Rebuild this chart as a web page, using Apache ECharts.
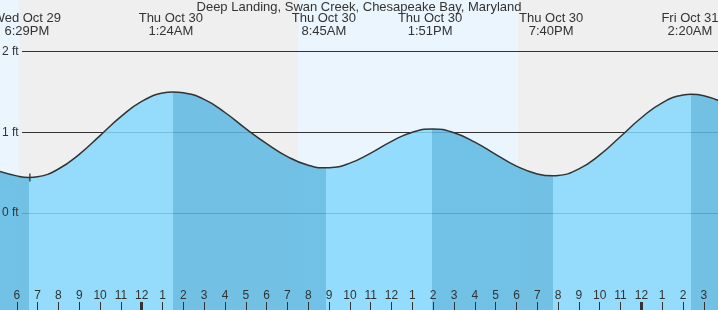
<!DOCTYPE html>
<html><head><meta charset="utf-8">
<script src="https://cdn.jsdelivr.net/npm/echarts@6/dist/echarts.min.js"></script>
<style>html,body{margin:0;padding:0;background:#fff}#c{width:718px;height:310px}</style>
</head><body><div id="c"></div>
<script>
const titleText = 'Deep Landing, Swan Creek, Chesapeake Bay, Maryland';
// time in hours relative to midnight at the start of Thu Oct 30
const hours   = [-7, -6, -5.41, -5, -4, -3, -2, -1, 0, 1, 1.5, 2, 3, 4, 5, 6, 7, 8, 8.85, 9, 10, 11, 12, 13, 13.94, 14, 15, 16, 17, 18, 19, 19.75, 20, 21, 22, 23, 24, 25, 26, 26.39, 27, 28];
// tide height, ft
const heights = [0.53, 0.46, 0.44, 0.449, 0.545, 0.727, 0.959, 1.193, 1.382, 1.486, 1.50, 1.489, 1.407, 1.245, 1.045, 0.860, 0.699, 0.591, 0.56, 0.561, 0.618, 0.742, 0.888, 1.001, 1.04, 1.040, 0.994, 0.878, 0.726, 0.580, 0.484, 0.46, 0.464, 0.546, 0.720, 0.948, 1.180, 1.365, 1.461, 1.47, 1.453, 1.355];
const extremeTimes  = [-5.517, 1.4, 8.75, 13.85, 19.667, 26.333];
const extremeLabels = ['Wed Oct 29\n6:29PM', 'Thu Oct 30\n1:24AM', 'Thu Oct 30\n8:45AM', 'Thu Oct 30\n1:51PM', 'Thu Oct 30\n7:40PM', 'Fri Oct 31\n2:20AM'];
const phaseBreaks = [-5.41, 1.50, 8.85, 13.94, 19.75, 26.39];
const sunEvents = [-5.89, 7.51, 18.07]; // sunset, sunrise, sunset
const hourTicks = [-6,-5,-4,-3,-2,-1,0,1,2,3,4,5,6,7,8,9,10,11,12,13,14,15,16,17,18,19,20,21,22,23,24,25,26,27];
const midnightTicks = [0, 24];
const ftTicks = [0, 1, 2];
const nowMark = [-5.37, 0.44];
const xMin = -6.806, xMax = 27.680, yMin = -1.202, yMax = 2.639;

const DAY = '#ebf5fe', NIGHT = '#efefef';
const LIGHT = '#85d8fd', DARK = '#5cb8e2';
const TXT = '#333';
const FONT = 'Liberation Sans';

const bandEdges = [xMin].concat(sunEvents, [xMax]);
const bands = [];
for (let i = 0; i < bandEdges.length - 1; i++) {
  bands.push([{xAxis: bandEdges[i], itemStyle: {color: i % 2 === 0 ? DAY : NIGHT, opacity: 1}}, {xAxis: bandEdges[i + 1]}]);
}
const pieces = [{lt: phaseBreaks[0], color: DARK}];
for (let i = 0; i < phaseBreaks.length; i++) {
  const p = {gte: phaseBreaks[i], color: i % 2 === 0 ? LIGHT : DARK};
  if (i < phaseBreaks.length - 1) p.lt = phaseBreaks[i + 1];
  pieces.push(p);
}

const chart = echarts.init(document.getElementById('c'));
chart.setOption({
  animation: false,
  textStyle: {fontFamily: FONT},
  title: {text: titleText, left: 'center', top: 1, padding: 0,
    textStyle: {fontSize: 13, fontWeight: 'normal', color: TXT, fontFamily: FONT}},
  grid: [
    {left: 0, right: 0, top: 0, bottom: 0, outerBoundsMode: 'none'},
    {left: 22, right: 0, top: 0, bottom: 0, outerBoundsMode: 'none'}
  ],
  visualMap: {show: false, type: 'piecewise', seriesIndex: 0, dimension: 0, pieces: pieces},
  xAxis: [
    {gridIndex: 0, type: 'value', min: xMin, max: xMax, position: 'bottom', z: 10,
      axisLine: {show: false, onZero: false}, splitLine: {show: false},
      axisTick: {show: true, inside: true, length: 8, customValues: hourTicks, lineStyle: {color: TXT, width: 1}},
      axisLabel: {show: true, inside: true, margin: 8, customValues: hourTicks, color: TXT, fontSize: 12, fontFamily: FONT,
        formatter: v => { const m = ((Math.round(v) % 12) + 12) % 12; return m === 0 ? '12' : String(m); }}},
    {gridIndex: 0, type: 'value', min: xMin, max: xMax, position: 'bottom', z: 11,
      axisLine: {show: false, onZero: false}, splitLine: {show: false}, axisLabel: {show: false},
      axisTick: {show: true, inside: true, length: 8, customValues: midnightTicks, lineStyle: {color: TXT, width: 3}}},
    {gridIndex: 0, type: 'value', min: xMin, max: xMax, position: 'top', z: 10,
      axisLine: {show: false, onZero: false}, splitLine: {show: false}, axisTick: {show: false},
      axisLabel: {show: true, inside: true, margin: 12, customValues: extremeTimes, color: TXT, fontSize: 13, lineHeight: 13, fontFamily: FONT, align: 'center',
        formatter: v => { for (let i = 0; i < extremeTimes.length; i++) { if (Math.abs(v - extremeTimes[i]) < 1e-6) return extremeLabels[i]; } return ''; }}},
    {gridIndex: 1, type: 'value', min: 0, max: 1, show: false, axisLine: {onZero: false}}
  ],
  yAxis: [
    {gridIndex: 0, type: 'value', min: yMin, max: yMax, position: 'left', z: 10,
      axisLine: {show: false, onZero: false}, splitLine: {show: false}, axisTick: {show: false, customValues: ftTicks},
      axisLabel: {inside: true, margin: 2, customValues: ftTicks, color: TXT, fontSize: 12, fontFamily: FONT, formatter: v => v + ' ft'}},
    {gridIndex: 1, type: 'value', min: yMin, max: yMax, position: 'left', z: 1.9,
      axisLine: {show: false, onZero: false}, axisLabel: {show: false}, axisTick: {show: false, customValues: ftTicks},
      splitLine: {show: true, lineStyle: {color: TXT, width: 1}}}
  ],
  series: [{
    type: 'line', xAxisIndex: 0, yAxisIndex: 0, z: 2, silent: true,
    data: hours.map((h, i) => [h, heights[i]]),
    smooth: 0.5, symbol: 'none',
    lineStyle: {color: TXT, width: 1.5},
    areaStyle: {opacity: 0.85, origin: 'start'},
    markArea: {silent: true, z: 0, data: bands},
    markPoint: {silent: true, symbol: 'rect', symbolSize: [1.3, 8], itemStyle: {color: TXT}, label: {show: false},
      data: [{coord: nowMark}]}
  }]
});
</script></body></html>
